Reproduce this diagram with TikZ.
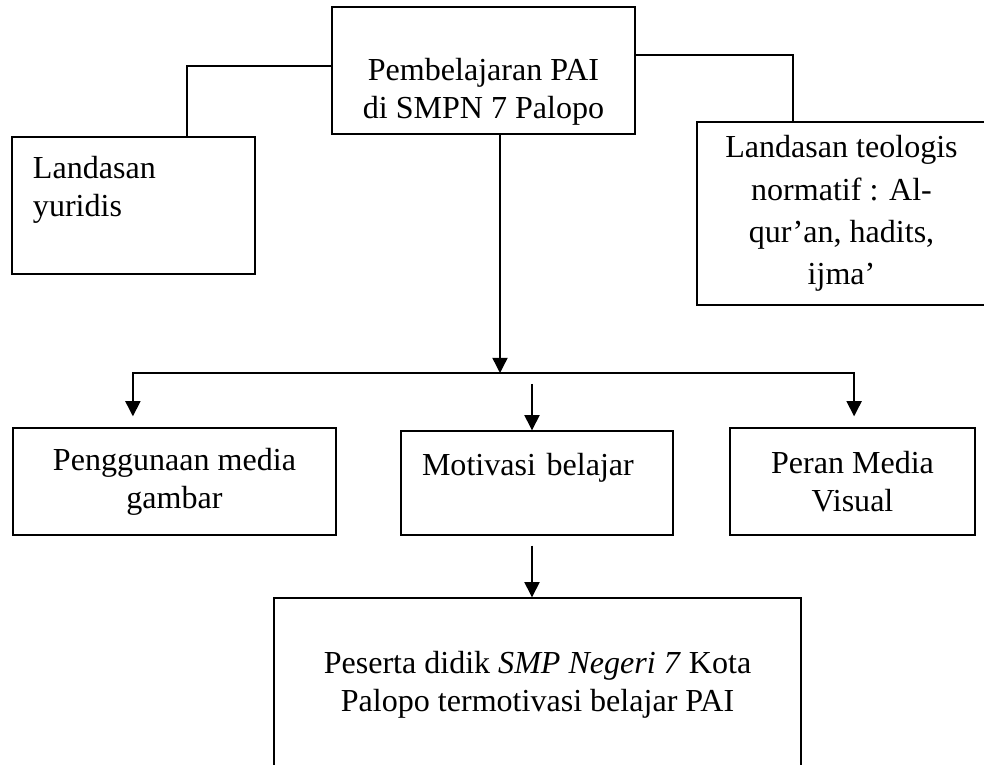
\documentclass[tikz,border=0pt]{standalone}
\usepackage{fontspec}
\setmainfont{Liberation Serif}
\usetikzlibrary{arrows.meta,positioning,calc}
\tikzset{
  kotak/.style={rectangle, draw=black, line width=1pt, inner sep=0pt,
    font=\fontsize{22.8}{27}\selectfont, align=center},
  panah/.style={-{Triangle[length=3.8mm,width=3.8mm]}, line width=1pt},
  garis/.style={line width=1pt}
}

\begin{document}
\begin{tikzpicture}[x=0.25mm,y=-0.25mm]
        \useasboundingbox (0,0) rectangle (984,765);
        \node[kotak,minimum width=75.75mm,minimum height=31.75mm] (pai) at (483.5,70.5) {\strut\\Pembelajaran PAI\\di SMPN 7 Palopo};
        \node[kotak,minimum width=60.75mm,minimum height=34.25mm,text width=50.25mm,align=left] (yur) at (133.5,205.5) {Landasan\\yuridis\\\mbox{}};
        \node[kotak,minimum width=72.25mm,minimum height=45.75mm,font=\fontsize{22.8}{30}\selectfont] (teo) at (841.5,213.5) {Landasan teologis\\normatif : Al-\\qur’an, hadits,\\ijma’};
        \node[kotak,minimum width=80.75mm,minimum height=26.75mm] (med) at (174.5,481.5) {Penggunaan media\\gambar};
        \node[kotak,minimum width=68mm,minimum height=26mm,text width=57.5mm,align=left] (mot) at (537,483) {Motivasi belajar\\\mbox{}};
        \node[kotak,minimum width=61.25mm,minimum height=26.75mm] (per) at (852.5,481.5) {Peran Media\\Visual};
        \node[kotak,minimum width=131.75mm,minimum height=43.5mm] (res) at (537.5,685) {\strut\\Peserta didik \textit{SMP Negeri 7} Kota\\Palopo termotivasi belajar PAI\\\strut};
        % cabang atas
        \draw[garis] ([yshift=1.1mm]pai.west) -| ([xshift=13.4mm]yur.north);
        \draw[garis] ([yshift=3.9mm]pai.east) -| ([xshift=-12.1mm]teo.north);
        \coordinate (bagi) at (500,373);
        \coordinate (mulai) at (532,384);
        \draw[panah] (pai.south -| bagi) -- (bagi);
        \draw[panah] (bagi) -| ([xshift=-10.4mm,yshift=2.75mm]med.north);
        \draw[panah] (bagi) -| ([xshift=0.4mm,yshift=2.75mm]per.north);
        \draw[panah] (mulai) -- (mot.north -| mulai);
        \draw[panah] ([yshift=-2.5mm]mot.south -| mulai) -- (res.north -| mulai);
      \end{tikzpicture}
\end{document}
